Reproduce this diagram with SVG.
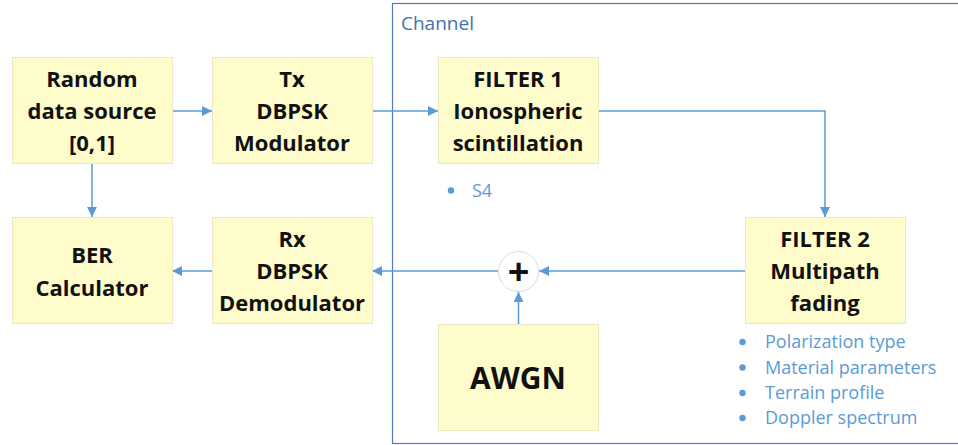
<svg xmlns="http://www.w3.org/2000/svg" width="958" height="445" viewBox="0 0 958 445">
  <style>
    .box { fill: #fffccc; stroke: #ebe8c4; stroke-width: 1; }
    .lbl { font-family: "Open Sans", "Liberation Sans", sans-serif; font-weight: bold; font-size: 22px; fill: #111; text-anchor: middle; }
    .big { font-size: 30px; }
    .plus { font-size: 38px; }
    .note { font-family: "Open Sans", "Liberation Sans", sans-serif; font-size: 18px; fill: #5b9bd5; }
    .dot { fill: #5b9bd5; }
    .wire { fill: none; stroke: #5b9bd5; stroke-width: 1.5; marker-end: url(#arr); }
  </style>
  <defs>
    <marker id="arr" viewBox="0 0 10 10" refX="10" refY="5" markerWidth="10" markerHeight="10" markerUnits="userSpaceOnUse" orient="auto">
      <path d="M0,0 L10,5 L0,10 Z" fill="#5b9bd5"/>
    </marker>
  </defs>
  <rect width="958" height="445" fill="#ffffff"/>

  <!-- channel frame -->
  <g id="channel">
    <rect x="392.5" y="3.5" width="600" height="440" fill="none" stroke="#4f7db5" stroke-width="1.2"/>
    <text x="401" y="30" font-family="'Open Sans', 'Liberation Sans', sans-serif" font-size="19" fill="#4472a8">Channel</text>
  </g>

  <!-- connectors -->
  <g id="connectors">
    <path class="wire" d="M172,111 H212"/>
    <path class="wire" d="M372,111 H438"/>
    <path class="wire" d="M598,111 H825 V217"/>
    <path class="wire" d="M745,271 H539"/>
    <path class="wire" d="M518.5,324 V292"/>
    <path class="wire" d="M498,271 H372"/>
    <path class="wire" d="M212,271 H172"/>
    <path class="wire" d="M92,164 V217"/>
  </g>

  <g id="source">
    <rect class="box" x="12.5" y="57.5" width="160" height="106"/>
    <text class="lbl" x="92" y="86.5">Random</text>
    <text class="lbl" x="92" y="118.5">data source</text>
    <text class="lbl" x="92" y="150.5">[0,1]</text>
  </g>

  <g id="tx">
    <rect class="box" x="212.5" y="57.5" width="160" height="106"/>
    <text class="lbl" x="292" y="86.5">Tx</text>
    <text class="lbl" x="292" y="118.5">DBPSK</text>
    <text class="lbl" x="292" y="150.5">Modulator</text>
  </g>

  <g id="filter1">
    <rect class="box" x="438.5" y="57.5" width="160" height="106"/>
    <text class="lbl" x="518" y="86.5">FILTER 1</text>
    <text class="lbl" x="518" y="118.5">Ionospheric</text>
    <text class="lbl" x="518" y="150.5">scintillation</text>
    <circle class="dot" cx="451" cy="190.5" r="3.2"/>
    <text class="note" x="472" y="196.5">S4</text>
  </g>

  <g id="filter2">
    <rect class="box" x="745.5" y="217.5" width="160" height="106"/>
    <text class="lbl" x="825" y="246.5">FILTER 2</text>
    <text class="lbl" x="825" y="278.5">Multipath</text>
    <text class="lbl" x="825" y="310.5">fading</text>
    <circle class="dot" cx="742.5" cy="342" r="3.2"/>
    <text class="note" x="765" y="348">Polarization type</text>
    <circle class="dot" cx="742.5" cy="367.5" r="3.2"/>
    <text class="note" x="765" y="373.5">Material parameters</text>
    <circle class="dot" cx="742.5" cy="393" r="3.2"/>
    <text class="note" x="765" y="399">Terrain profile</text>
    <circle class="dot" cx="742.5" cy="418" r="3.2"/>
    <text class="note" x="765" y="424">Doppler spectrum</text>
  </g>

  <g id="awgn">
    <rect class="box" x="438.5" y="324.5" width="160" height="106"/>
    <text class="lbl big" x="518" y="388.5">AWGN</text>
  </g>

  <g id="sum">
    <circle cx="518.5" cy="271.5" r="20" fill="#ffffff" stroke="#dcdcdc" stroke-width="1"/>
    <text class="lbl plus" x="518.5" y="285">+</text>
  </g>

  <g id="rx">
    <rect class="box" x="212.5" y="217.5" width="160" height="106"/>
    <text class="lbl" x="292" y="246.5">Rx</text>
    <text class="lbl" x="292" y="278.5">DBPSK</text>
    <text class="lbl" x="292" y="310.5">Demodulator</text>
  </g>

  <g id="ber">
    <rect class="box" x="12.5" y="217.5" width="160" height="106"/>
    <text class="lbl" x="92" y="263">BER</text>
    <text class="lbl" x="92" y="295.5">Calculator</text>
  </g>
</svg>
